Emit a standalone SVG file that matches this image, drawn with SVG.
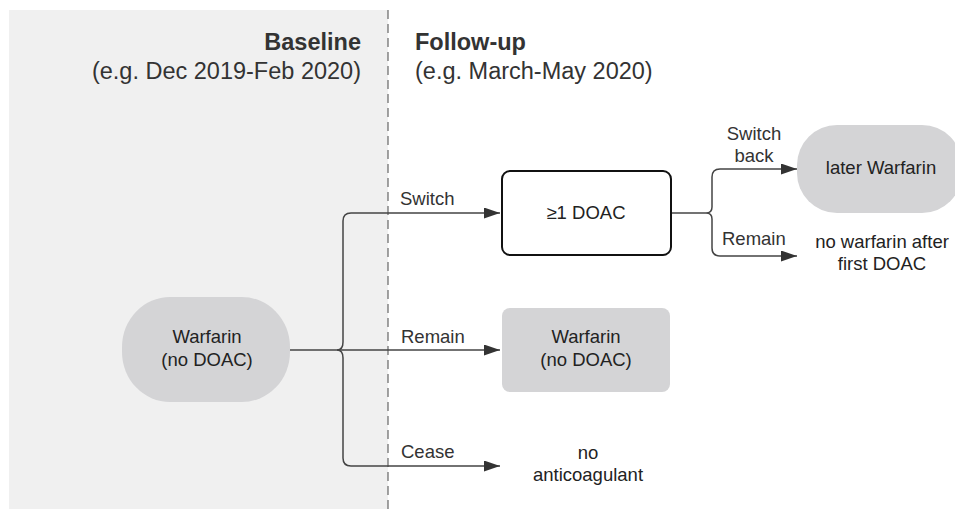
<svg xmlns="http://www.w3.org/2000/svg" width="955" height="509" viewBox="0 0 955 509">
  <style>
    text { font-family: "Liberation Sans", Arial, sans-serif; fill: #222; }
    .head { font-size: 23.5px; font-weight: bold; fill: #333; }
    .sub { font-size: 23.5px; fill: #333; }
    .lbl { font-size: 18.5px; fill: #333; }
    .node-text { font-size: 18.5px; text-anchor: middle; }
    .grey { fill: #d4d4d6; }
    .edge { fill: none; stroke: #444; stroke-width: 1.5; }
  </style>
  <defs>
    <marker id="arrow" markerUnits="userSpaceOnUse" markerWidth="18" markerHeight="12" refX="16" refY="5.5" orient="auto">
      <path d="M0,0 L16,5.5 L0,11 z" fill="#333"/>
    </marker>
  </defs>

  <!-- baseline period panel -->
  <rect x="9" y="10" width="379" height="499" fill="#f0f0f0"/>
  <line x1="388" y1="10" x2="388" y2="509" stroke="#666" stroke-width="1.2" stroke-dasharray="9,5"/>

  <!-- period headings -->
  <g id="headings">
    <text class="head" x="361" y="50" text-anchor="end">Baseline</text>
    <text class="sub" x="361" y="79" text-anchor="end">(e.g. Dec 2019-Feb 2020)</text>
    <text class="head" x="415" y="50">Follow-up</text>
    <text class="sub" x="415" y="79">(e.g. March-May 2020)</text>
  </g>

  <!-- connectors -->
  <g id="connectors">
    <path class="edge" d="M290,350 H337"/>
    <path class="edge" d="M343,342 V221 Q343,213 351,213 H500" marker-end="url(#arrow)"/>
    <path class="edge" d="M343,342 Q343,350 337,350 Q343,350 343,358"/>
    <path class="edge" d="M337,350 H500" marker-end="url(#arrow)"/>
    <path class="edge" d="M343,358 V458 Q343,466 351,466 H500" marker-end="url(#arrow)"/>

    <path class="edge" d="M671,213 H706"/>
    <path class="edge" d="M712,207 V177 Q712,169 720,169 H797" marker-end="url(#arrow)"/>
    <path class="edge" d="M712,207 Q712,213 706,213 Q712,213 712,219"/>
    <path class="edge" d="M712,219 V248 Q712,256 720,256 H797" marker-end="url(#arrow)"/>

    <text class="lbl" x="400" y="205">Switch</text>
    <text class="lbl" x="401" y="343">Remain</text>
    <text class="lbl" x="401" y="458">Cease</text>
    <text class="lbl" x="754" y="140" text-anchor="middle">Switch</text>
    <text class="lbl" x="754" y="162" text-anchor="middle">back</text>
    <text class="lbl" x="722" y="245">Remain</text>
  </g>

  <!-- nodes -->
  <g id="warfarin-baseline">
    <rect class="grey" x="122" y="297" width="168" height="105" rx="48" ry="50"/>
    <text class="node-text" x="207" y="343">Warfarin</text>
    <text class="node-text" x="207" y="366">(no DOAC)</text>
  </g>

  <g id="doac">
    <rect x="502" y="171" width="169" height="84" rx="8" fill="#fff" stroke="#111" stroke-width="2"/>
    <text class="node-text" x="586" y="219">≥1 DOAC</text>
  </g>

  <g id="warfarin-followup">
    <rect class="grey" x="502" y="308" width="168" height="84" rx="8"/>
    <text class="node-text" x="586" y="343">Warfarin</text>
    <text class="node-text" x="586" y="366">(no DOAC)</text>
  </g>

  <g id="no-anticoagulant">
    <text class="node-text" x="588" y="459">no</text>
    <text class="node-text" x="588" y="481">anticoagulant</text>
  </g>

  <g id="later-warfarin">
    <rect class="grey" x="797" y="125" width="165" height="88" rx="40" ry="40"/>
    <text class="node-text" x="881" y="174">later Warfarin</text>
  </g>

  <g id="no-warfarin-after">
    <text class="node-text" x="882" y="248">no warfarin after</text>
    <text class="node-text" x="882" y="270">first DOAC</text>
  </g>
</svg>
